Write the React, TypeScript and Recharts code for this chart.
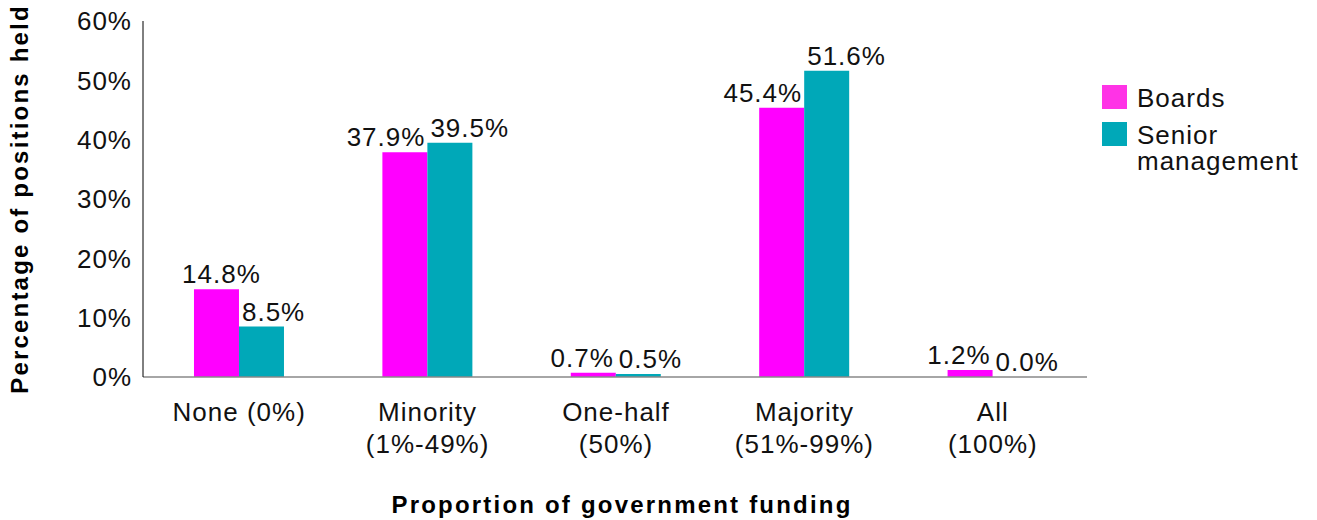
import { BarChart, Bar, XAxis, YAxis, Legend, LabelList } from 'recharts';

const categories = ['None (0%)', 'Minority\n(1%-49%)', 'One-half\n(50%)', 'Majority\n(51%-99%)', 'All\n(100%)'];
const boards = [14.8, 37.9, 0.7, 45.4, 1.2];
const seniorManagement = [8.5, 39.5, 0.5, 51.6, 0.0];
const yTicks = [0, 10, 20, 30, 40, 50, 60];

const PINK = '#ff00ff';
const TEAL = '#00a8b8';
const FONT = '"Liberation Sans", Arial, Helvetica, sans-serif';

const data = categories.map((name, i) => ({
  name,
  boards: boards[i],
  senior: seniorManagement[i],
}));

const pct = (v: number) => `${Number(v).toFixed(1)}%`;

// labels get pushed apart like in the original so they don't collide
function BoardsLabel(props: any) {
  const { x, y, width, value, index } = props;
  const clear = boards[index] > seniorManagement[index] + 4.4;
  return (
    <text
      x={clear ? x + width / 2 + 5 : x + width - 2}
      y={y - 6}
      textAnchor={clear ? 'middle' : 'end'}
      fontSize={26}
      letterSpacing={1}
      fill="#111"
      fontFamily={FONT}
    >
      {pct(value)}
    </text>
  );
}

function SeniorLabel(props: any) {
  const { x, y, value } = props;
  return (
    <text x={x + 3} y={y - 6} textAnchor="start" fontSize={26} letterSpacing={1} fill="#111" fontFamily={FONT}>
      {pct(value)}
    </text>
  );
}

function CategoryTick(props: any) {
  const { x, y, payload } = props;
  const lines = String(payload.value).split('\n');
  return (
    <text
      x={x}
      y={y + 36}
      textAnchor="middle"
      fontSize={26}
      letterSpacing={1}
      fill="#111"
      fontFamily={FONT}
    >
      {lines.map((line, i) => (
        <tspan key={i} x={x} dy={i === 0 ? 0 : 32}>
          {line}
        </tspan>
      ))}
    </text>
  );
}

function LegendBox() {
  const items = [
    { color: '#ff33e6', label: ['Boards'] },
    { color: TEAL, label: ['Senior', 'management'] },
  ];
  return (
    <div style={{ fontFamily: FONT, fontSize: 26, letterSpacing: 1, color: '#111', textAlign: 'left' }}>
      {items.map((it) => (
        <div key={it.label[0]} style={{ display: 'flex', alignItems: 'flex-start', marginBottom: 11 }}>
          <div style={{ width: 25, height: 24, background: it.color, marginRight: 10, flex: 'none' }} />
          <div style={{ lineHeight: '26px' }}>
            {it.label.map((l) => (
              <div key={l}>{l}</div>
            ))}
          </div>
        </div>
      ))}
    </div>
  );
}

export default function App() {
  return (
    <div style={{ position: 'absolute', left: 0, top: 0, background: '#fff' }}>
      <BarChart
        width={1317}
        height={520}
        data={data}
        margin={{ top: 21, right: 230, bottom: 0, left: 0 }}
        barCategoryGap="26%"
        barGap={0}
      >
        <XAxis
          dataKey="name"
          height={143}
          axisLine={{ stroke: '#888', strokeWidth: 1.5 }}
          tickLine={false}
          tick={<CategoryTick />}
          interval={0}
          padding={{ left: 2, right: 0 }}
          label={{
            value: 'Proportion of government funding',
            position: 'insideBottom',
            offset: 7,
            dx: 7,
            fontSize: 24,
            fontWeight: 'bold',
            letterSpacing: 2.2,
            fill: '#000',
            fontFamily: FONT,
          }}
        />
        <YAxis
          width={143}
          domain={[0, 60]}
          ticks={yTicks}
          tickFormatter={(v: number) => `${v}%`}
          axisLine={{ stroke: '#000', strokeWidth: 1 }}
          tickLine={false}
          tickSize={0}
          tickMargin={11}
          tick={{ fontSize: 26, fill: '#111', fontFamily: FONT, letterSpacing: 1 }}
          label={{
            value: 'Percentage of positions held',
            angle: -90,
            position: 'center',
            dx: -52,
            fontSize: 24,
            fontWeight: 'bold',
            letterSpacing: 2.2,
            fill: '#000',
            fontFamily: FONT,
          }}
        />
        <Legend
          layout="horizontal"
          verticalAlign="middle"
          align="center"
          content={() => <LegendBox />}
          wrapperStyle={{ top: 85, left: 1102, width: 215 }}
        />
        <Bar dataKey="boards" name="Boards" fill={PINK} isAnimationActive={false}>
          <LabelList dataKey="boards" content={<BoardsLabel />} />
        </Bar>
        <Bar dataKey="senior" name="Senior management" fill={TEAL} minPointSize={0.01} isAnimationActive={false}>
          <LabelList dataKey="senior" content={<SeniorLabel />} />
        </Bar>
      </BarChart>
    </div>
  );
}
